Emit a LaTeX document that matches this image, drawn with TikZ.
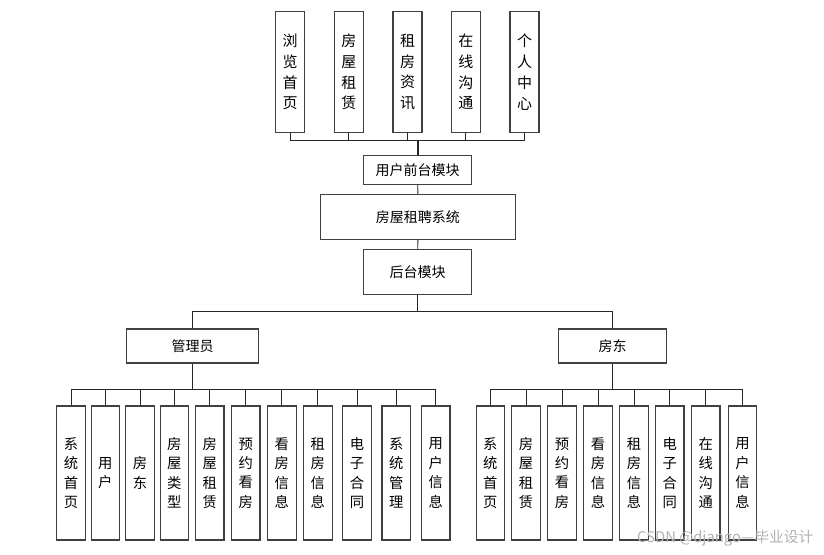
\documentclass[tikz,border=0pt]{standalone}
\usepackage{fontspec}
\newfontfamily\cjk{Noto Sans CJK SC}
\begin{document}
\begin{tikzpicture}[x=1pt,y=-1pt,
  box/.style={draw=black!75,line width=1.1pt,fill=white,rectangle,inner sep=0pt,align=center,text=black},
  topbox/.style={box,minimum width=29pt,minimum height=120.6pt,font=\cjk\fontsize{15}{20.8}\selectfont},
  leafbox/.style={box,minimum width=28.5pt,minimum height=134pt,font=\cjk\fontsize{14.3}{19.4}\selectfont},
  midbox/.style={box,font=\cjk\fontsize{14}{16}\selectfont},
  conn/.style={draw=black!85,line width=0.9pt}]
\useasboundingbox (0,0) rectangle (824,554);
\fill[white] (0,0) rectangle (824,554);
% top boxes
\node[topbox] (t1) at (290.2,72) {浏\\览\\首\\页};
\node[topbox] (t2) at (348.8,72) {房\\屋\\租\\赁};
\node[topbox] (t3) at (407.5,72) {租\\房\\资\\讯};
\node[topbox] (t4) at (465.8,72) {在\\线\\沟\\通};
\node[topbox] (t5) at (524.5,72) {个\\人\\中\\心};
% middle
\node[midbox,minimum width=108pt,minimum height=28.7pt] (fe) at (417.7,169.7) {用户前台模块};
\node[midbox,minimum width=194.3pt,minimum height=45pt] (sys) at (417.9,216.8) {房屋租聘系统};
\node[midbox,minimum width=108pt,minimum height=45.4pt] (be) at (417.7,272) {后台模块};
\node[midbox,minimum width=131.6pt,minimum height=34pt] (adm) at (192.5,346) {管理员};
\node[midbox,minimum width=107.6pt,minimum height=34pt] (ll) at (612.5,346) {房东};
% admin leaves
\node[leafbox] (a1) at (71,473) {系\\统\\首\\页};
\node[leafbox] (a2) at (105.3,473) {用\\户};
\node[leafbox] (a3) at (140,473) {房\\东};
\node[leafbox] (a4) at (174.3,473) {房\\屋\\类\\型};
\node[leafbox] (a5) at (209.7,473) {房\\屋\\租\\赁};
\node[leafbox] (a6) at (245.7,473) {预\\约\\看\\房};
\node[leafbox] (a7) at (281.8,473) {看\\房\\信\\息};
\node[leafbox] (a8) at (317.8,473) {租\\房\\信\\息};
\node[leafbox] (a9) at (357,473) {电\\子\\合\\同};
\node[leafbox] (a10) at (396.2,473) {系\\统\\管\\理};
\node[leafbox] (a11) at (435.7,473) {用\\户\\信\\息};
% landlord leaves
\node[leafbox] (l1) at (490.3,473) {系\\统\\首\\页};
\node[leafbox] (l2) at (526,473) {房\\屋\\租\\赁};
\node[leafbox] (l3) at (562,473) {预\\约\\看\\房};
\node[leafbox] (l4) at (598,473) {看\\房\\信\\息};
\node[leafbox] (l5) at (634,473) {租\\房\\信\\息};
\node[leafbox] (l6) at (669.7,473) {电\\子\\合\\同};
\node[leafbox] (l7) at (705.7,473) {在\\线\\沟\\通};
\node[leafbox] (l8) at (742.5,473) {用\\户\\信\\息};
% junctions
\coordinate (jt) at (417.7,140.7);
\coordinate (jb) at (417.7,311.5);
\coordinate (ja) at (192.5,389);
\coordinate (jl) at (612.5,389);
% connectors
\foreach \n in {t1,t2,t3,t4,t5} {\draw[conn] (\n.south) |- (jt);}
\draw[conn,line width=1.6pt] (jt) -- (fe.north);
\draw[conn] (fe.south) -- (sys.north);
\draw[conn] (sys.south) -- (be.north);
\draw[conn] (be.south) -- (jb);
\draw[conn] (jb) -| (adm.north);
\draw[conn] (jb) -| (ll.north);
\draw[conn] (adm.south) -- (ja);
\draw[conn] (ll.south) -- (jl);
\foreach \n in {a1,a2,a3,a4,a5,a6,a7,a8,a9,a10,a11} {\draw[conn] (ja) -| (\n.north);}
\foreach \n in {l1,l2,l3,l4,l5,l6,l7,l8} {\draw[conn] (jl) -| (\n.north);}
% watermark
\node[anchor=west,inner sep=0pt,text=black!30,font=\cjk\fontsize{14.8}{16}\selectfont] (wm) at (637,538) {CSDN @django—毕业设计};
\end{tikzpicture}
\end{document}
